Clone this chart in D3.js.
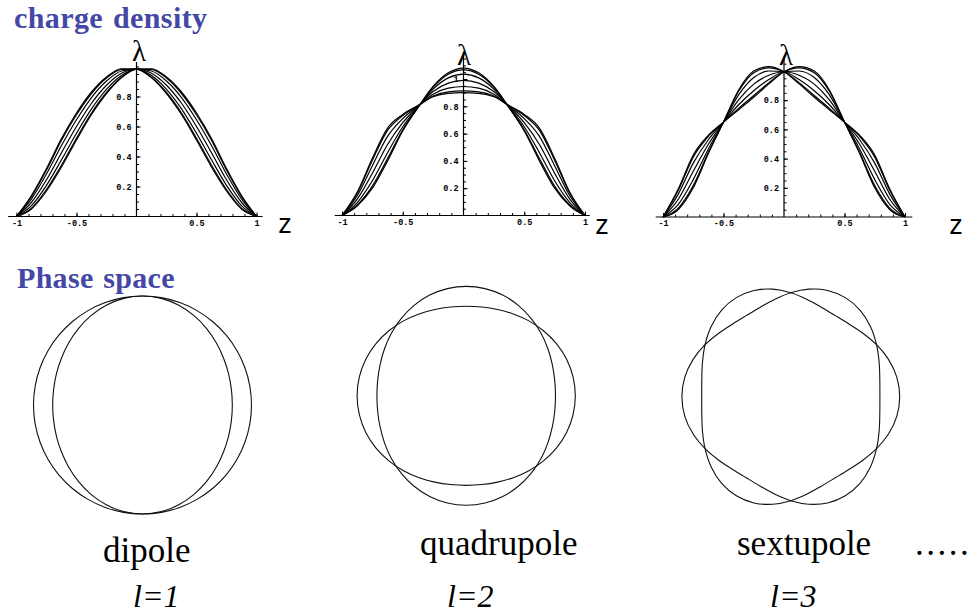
<!DOCTYPE html>
<html>
<head>
<meta charset="utf-8">
<script src="https://cdn.jsdelivr.net/npm/d3@7"></script>
<style>
  html, body { margin: 0; padding: 0; background: #fff; }
  svg { display: block; }
</style>
</head>
<body>
<svg id="chart" width="972" height="613"></svg>
<script>
// ---- charge density: λ(z) sampled on a common z grid ----
const zGrid = [-1, -0.875, -0.75, -0.625, -0.5, -0.375, -0.25, -0.125, 0,
               0.125, 0.25, 0.375, 0.5, 0.625, 0.75, 0.875, 1];

// dipole (l=1): profile swinging left/right
const dipoleCurves = [
  [0, 0.14, 0.32, 0.52, 0.69, 0.83, 0.93, 0.985, 0.983, 0.925, 0.82, 0.68, 0.51, 0.33, 0.17, 0.05, 0],
  [0, 0.134, 0.31, 0.508, 0.678, 0.82, 0.923, 0.981, 0.983, 0.929, 0.827, 0.69, 0.522, 0.342, 0.18, 0.056, 0],
  [0, 0.118, 0.283, 0.473, 0.645, 0.793, 0.903, 0.97, 0.983, 0.94, 0.848, 0.718, 0.555, 0.378, 0.208, 0.073, 0],
  [0, 0.095, 0.245, 0.425, 0.6, 0.755, 0.875, 0.955, 0.983, 0.955, 0.875, 0.755, 0.6, 0.425, 0.245, 0.095, 0],
  [0, 0.073, 0.208, 0.378, 0.555, 0.718, 0.848, 0.94, 0.983, 0.97, 0.903, 0.793, 0.645, 0.473, 0.283, 0.118, 0],
  [0, 0.056, 0.18, 0.342, 0.522, 0.69, 0.827, 0.929, 0.983, 0.981, 0.923, 0.82, 0.678, 0.508, 0.31, 0.134, 0],
  [0, 0.05, 0.17, 0.33, 0.51, 0.68, 0.82, 0.925, 0.983, 0.985, 0.93, 0.83, 0.69, 0.52, 0.32, 0.14, 0]
];

// quadrupole (l=2): profile breathing narrow/wide
const quadrupoleCurves = [
  [0, 0.07, 0.2, 0.4, 0.62, 0.79, 0.945, 1.045, 1.08, 1.045, 0.945, 0.79, 0.62, 0.4, 0.2, 0.07, 0],
  [0, 0.077, 0.215, 0.417, 0.628, 0.791, 0.94, 1.035, 1.067, 1.035, 0.94, 0.791, 0.628, 0.417, 0.215, 0.077, 0],
  [0, 0.095, 0.255, 0.46, 0.65, 0.794, 0.926, 1.008, 1.035, 1.008, 0.926, 0.794, 0.65, 0.46, 0.255, 0.095, 0],
  [0, 0.12, 0.31, 0.52, 0.68, 0.798, 0.908, 0.97, 0.99, 0.97, 0.908, 0.798, 0.68, 0.52, 0.31, 0.12, 0],
  [0, 0.145, 0.365, 0.58, 0.71, 0.801, 0.889, 0.933, 0.945, 0.933, 0.889, 0.801, 0.71, 0.58, 0.365, 0.145, 0],
  [0, 0.163, 0.405, 0.623, 0.732, 0.804, 0.875, 0.906, 0.913, 0.906, 0.875, 0.804, 0.732, 0.623, 0.405, 0.163, 0],
  [0, 0.17, 0.42, 0.64, 0.74, 0.805, 0.87, 0.895, 0.9, 0.895, 0.87, 0.805, 0.74, 0.64, 0.42, 0.17, 0]
];

// sextupole (l=3): nodes at z = 0 and z = ±0.5
const sextupoleCurves = [
  [0, 0.05, 0.2, 0.435, 0.65, 0.87, 1.0, 1.03, 0.995, 0.912, 0.82, 0.735, 0.65, 0.56, 0.425, 0.19, 0],
  [0, 0.059, 0.215, 0.443, 0.65, 0.861, 0.988, 1.022, 0.995, 0.92, 0.832, 0.744, 0.65, 0.552, 0.41, 0.181, 0],
  [0, 0.085, 0.256, 0.466, 0.65, 0.836, 0.955, 1.0, 0.995, 0.941, 0.865, 0.769, 0.65, 0.529, 0.369, 0.155, 0],
  [0, 0.12, 0.313, 0.498, 0.65, 0.803, 0.91, 0.971, 0.995, 0.971, 0.91, 0.803, 0.65, 0.498, 0.313, 0.12, 0],
  [0, 0.155, 0.369, 0.529, 0.65, 0.769, 0.865, 0.941, 0.995, 1.0, 0.955, 0.836, 0.65, 0.466, 0.256, 0.085, 0],
  [0, 0.181, 0.41, 0.552, 0.65, 0.744, 0.832, 0.92, 0.995, 1.022, 0.988, 0.861, 0.65, 0.443, 0.215, 0.059, 0],
  [0, 0.19, 0.425, 0.56, 0.65, 0.735, 0.82, 0.912, 0.995, 1.03, 1.0, 0.87, 0.65, 0.435, 0.2, 0.05, 0]
];

// axis ticks
const zTickValues = [-1, -0.5, 0.5, 1];
const zTickLabels = ["-1", "-0.5", "0.5", "1"];
const zMinorTicks = [-1, -0.9, -0.8, -0.7, -0.6, -0.5, -0.4, -0.3, -0.2, -0.1,
                     0.1, 0.2, 0.3, 0.4, 0.5, 0.6, 0.7, 0.8, 0.9, 1];
const lambdaTicks = [0.2, 0.4, 0.6, 0.8];
const lambdaTicksWithOne = [0.2, 0.4, 0.6, 0.8, 1];

// ---- phase space: normalised radius every 10 degrees ----
const phaseAnglesDeg = [0, 10, 20, 30, 40, 50, 60, 70, 80, 90, 100, 110, 120, 130, 140, 150, 160, 170,
                        180, 190, 200, 210, 220, 230, 240, 250, 260, 270, 280, 290, 300, 310, 320, 330, 340, 350];

const dipoleOuter = [1, 1, 1, 1, 1, 1, 1, 1, 1, 1, 1, 1, 1, 1, 1, 1, 1, 1,
                     1, 1, 1, 1, 1, 1, 1, 1, 1, 1, 1, 1, 1, 1, 1, 1, 1, 1];
const dipoleInner = [0.824, 0.828, 0.84, 0.859, 0.885, 0.915, 0.946, 0.973, 0.993, 1, 0.993, 0.973, 0.946, 0.915, 0.885, 0.859, 0.84, 0.828,
                     0.824, 0.828, 0.84, 0.859, 0.885, 0.915, 0.946, 0.973, 0.993, 1, 0.993, 0.973, 0.946, 0.915, 0.885, 0.859, 0.84, 0.828];

const quadrupoleWide = [1.1, 1.094, 1.077, 1.05, 1.017, 0.983, 0.95, 0.923, 0.906, 0.9, 0.906, 0.923, 0.95, 0.983, 1.017, 1.05, 1.077, 1.094,
                        1.1, 1.094, 1.077, 1.05, 1.017, 0.983, 0.95, 0.923, 0.906, 0.9, 0.906, 0.923, 0.95, 0.983, 1.017, 1.05, 1.077, 1.094];
const quadrupoleTall = [0.9, 0.906, 0.923, 0.95, 0.983, 1.017, 1.05, 1.077, 1.094, 1.1, 1.094, 1.077, 1.05, 1.017, 0.983, 0.95, 0.923, 0.906,
                        0.9, 0.906, 0.923, 0.95, 0.983, 1.017, 1.05, 1.077, 1.094, 1.1, 1.094, 1.077, 1.05, 1.017, 0.983, 0.95, 0.923, 0.906];

const sextupoleA = [1.1, 1.087, 1.05, 1.0, 0.95, 0.913, 0.9, 0.913, 0.95, 1.0, 1.05, 1.087,
                    1.1, 1.087, 1.05, 1.0, 0.95, 0.913, 0.9, 0.913, 0.95, 1.0, 1.05, 1.087,
                    1.1, 1.087, 1.05, 1.0, 0.95, 0.913, 0.9, 0.913, 0.95, 1.0, 1.05, 1.087];
const sextupoleB = [0.9, 0.913, 0.95, 1.0, 1.05, 1.087, 1.1, 1.087, 1.05, 1.0, 0.95, 0.913,
                    0.9, 0.913, 0.95, 1.0, 1.05, 1.087, 1.1, 1.087, 1.05, 1.0, 0.95, 0.913,
                    0.9, 0.913, 0.95, 1.0, 1.05, 1.087, 1.1, 1.087, 1.05, 1.0, 0.95, 0.913];

// ---- labels ----
const modeNames = ["dipole", "quadrupole", "sextupole"];
const modeOrders = ["1", "2", "3"];

// ---- drawing ----
const svg = d3.select("#chart");
svg.append("rect").attr("width", 972).attr("height", 613).attr("fill", "#fff");

const titleColor = "#4447a6";
const serif = "'Liberation Serif', 'Times New Roman', serif";
const mono = "'Liberation Mono', 'Courier New', monospace";
const sans = "'Liberation Sans', Arial, sans-serif";

svg.append("text").attr("x", 14).attr("y", 28)
  .attr("font-family", serif).attr("font-weight", "bold").attr("font-size", 30)
  .attr("letter-spacing", 0.4).attr("word-spacing", 2)
  .attr("fill", titleColor).text("charge density");
svg.append("text").attr("x", 17).attr("y", 288)
  .attr("font-family", serif).attr("font-weight", "bold").attr("font-size", 30)
  .attr("letter-spacing", 0.3).attr("word-spacing", 2)
  .attr("fill", titleColor).text("Phase space");

const densityPanels = [
  { curves: dipoleCurves,     xr: [16.5, 256.5], yr: [216.5, 66.5], xExt: [-1.07, 1.05], yTop: 1.03, yLab: lambdaTicks,        lam: [139, 61], zl: [285, 233] },
  { curves: quadrupoleCurves, xr: [342, 585],    yr: [215.5, 79],   xExt: [-1.06, 1.04], yTop: 1.2,  yLab: lambdaTicksWithOne, lam: [464, 65], zl: [602, 234] },
  { curves: sextupoleCurves,  xr: [663, 905],    yr: [217, 71],     xExt: [-1.06, 1.06], yTop: 1.1,  yLab: lambdaTicks,        lam: [786, 65], zl: [956, 234] }
];

densityPanels.forEach(p => {
  const x = d3.scaleLinear().domain([-1, 1]).range(p.xr);
  const y = d3.scaleLinear().domain([0, 1]).range(p.yr);
  const g = svg.append("g");

  // axis lines
  g.append("line").attr("x1", x(p.xExt[0])).attr("x2", x(p.xExt[1]))
    .attr("y1", y(0)).attr("y2", y(0)).attr("stroke", "#000").attr("stroke-width", 1.2);
  g.append("line").attr("x1", x(0)).attr("x2", x(0))
    .attr("y1", y(0)).attr("y2", y(p.yTop)).attr("stroke", "#000").attr("stroke-width", 1.2);

  // z axis: minor ticks, then labelled ticks
  g.append("g").attr("transform", `translate(0,${y(0)})`)
    .call(d3.axisBottom(x).tickValues(zMinorTicks).tickSizeInner(-2.5).tickSizeOuter(0).tickFormat(""))
    .call(s => s.select(".domain").remove());
  g.append("g").attr("transform", `translate(0,${y(0)})`)
    .call(d3.axisBottom(x).tickValues(zTickValues).tickSizeInner(-4).tickSizeOuter(0).tickPadding(3)
      .tickFormat((d, i) => zTickLabels[i]))
    .call(s => s.select(".domain").remove())
    .call(s => s.selectAll("text").attr("font-family", mono).attr("font-weight", "bold")
      .attr("font-size", 8.5).attr("fill", "#000"));

  // λ axis
  const minorY = d3.range(0.05, p.yTop, 0.05).map(v => +v.toFixed(2));
  g.append("g").attr("transform", `translate(${x(0)},0)`)
    .call(d3.axisLeft(y).tickValues(minorY).tickSizeInner(-2.5).tickSizeOuter(0).tickFormat(""))
    .call(s => s.select(".domain").remove());
  g.append("g").attr("transform", `translate(${x(0)},0)`)
    .call(d3.axisLeft(y).tickValues(p.yLab).tickSizeInner(-4).tickSizeOuter(0).tickPadding(5)
      .tickFormat(d => d === 1 ? "1" : d.toFixed(1)))
    .call(s => s.select(".domain").remove())
    .call(s => s.selectAll("text").attr("font-family", mono).attr("font-weight", "bold")
      .attr("font-size", 8.5).attr("fill", "#000"));
  g.selectAll(".tick line").attr("stroke", "#000");

  // density curves
  const line = d3.line()
    .x((d, i) => x(zGrid[i]))
    .y(d => y(d))
    .curve(d3.curveMonotoneX);
  g.append("g").selectAll("path").data(p.curves).join("path")
    .attr("d", line).attr("fill", "none")
    .attr("stroke", "#000").attr("stroke-width", 1.2);

  // axis names
  g.append("text").attr("x", p.lam[0]).attr("y", p.lam[1]).attr("text-anchor", "middle")
    .attr("font-family", serif).attr("font-size", 29).attr("fill", "#000").text("λ");
  g.append("text").attr("x", p.zl[0]).attr("y", p.zl[1]).attr("text-anchor", "middle")
    .attr("font-family", sans).attr("font-size", 27).attr("fill", "#000").text("z");
});

// phase space orbits
const phasePanels = [
  { orbits: [dipoleOuter, dipoleInner],        cx: 142.5, cy: 405,   rx: 109,  ry: 109 },
  { orbits: [quadrupoleWide, quadrupoleTall],  cx: 466.2, cy: 395.8, rx: 99.2, ry: 99.5 },
  { orbits: [sextupoleA, sextupoleB],          cx: 790.8, cy: 396.7, rx: 99,   ry: 104 }
];

phasePanels.forEach(p => {
  const x = d3.scaleLinear().domain([-1, 1]).range([p.cx - p.rx, p.cx + p.rx]);
  const y = d3.scaleLinear().domain([-1, 1]).range([p.cy + p.ry, p.cy - p.ry]);
  const rad = d => d * Math.PI / 180;
  const orbit = d3.line()
    .x((r, i) => x(r * Math.cos(rad(phaseAnglesDeg[i]))))
    .y((r, i) => y(r * Math.sin(rad(phaseAnglesDeg[i]))))
    .curve(d3.curveCatmullRomClosed);
  svg.append("g").selectAll("path").data(p.orbits).join("path")
    .attr("d", orbit).attr("fill", "none")
    .attr("stroke", "#111").attr("stroke-width", 1.1);
});

// mode names and orders
const namePos = [[103, 562], [420, 555], [737, 555]];
const orderPos = [[133, 607], [447, 607], [770, 607]];
modeNames.forEach((n, i) => {
  svg.append("text").attr("x", namePos[i][0]).attr("y", namePos[i][1])
    .attr("font-family", serif).attr("font-size", 35).attr("fill", "#000").text(n);
  svg.append("text").attr("x", orderPos[i][0]).attr("y", orderPos[i][1])
    .attr("font-family", serif).attr("font-style", "italic").attr("font-size", 32).attr("fill", "#000")
    .text("l=" + modeOrders[i]);
});
svg.append("text").attr("x", 915).attr("y", 555)
  .attr("font-family", serif).attr("font-size", 35).attr("letter-spacing", 2.5)
  .attr("fill", "#000").text(".....");
</script>
</body>
</html>
